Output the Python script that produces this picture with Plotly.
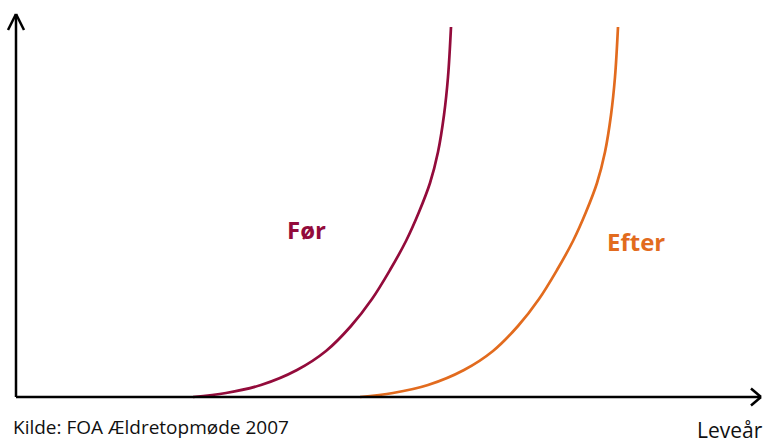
import plotly.graph_objects as go

# Curve values (arbitrary units; x = levealder, y = behov)
for_x = [177, 210, 245, 281, 310, 335, 356, 374, 390, 403, 414, 422, 428, 432, 435]
for_y = [0, 4, 12, 27, 46, 71, 98, 127, 156, 185, 214, 245, 282, 320, 370]
efter_x = [344, 377, 412, 448, 477, 502, 523, 541, 557, 570, 581, 589, 595, 599, 602]
efter_y = [0, 4, 12, 27, 46, 71, 98, 127, 156, 185, 214, 245, 282, 320, 370]

labels = {"for": "Før", "efter": "Efter"}
source = "Kilde: FOA Ældretopmøde 2007"
x_title = "Leveår"

C_FOR = "#930b3b"
C_EFTER = "#e26b1e"
FONT = "Open Sans, Noto Sans, sans-serif"

fig = go.Figure()
fig.add_trace(go.Scatter(x=for_x, y=for_y, mode="lines",
                         line=dict(color=C_FOR, width=2.7, shape="spline", smoothing=1.0),
                         hoverinfo="skip"))
fig.add_trace(go.Scatter(x=efter_x, y=efter_y, mode="lines",
                         line=dict(color=C_EFTER, width=2.7, shape="spline", smoothing=1.0),
                         hoverinfo="skip"))

ax = dict(color="black", width=2.5)
shapes = [
    dict(type="line", x0=0, y0=0, x1=745, y1=0, line=ax),
    dict(type="line", x0=0, y0=0, x1=0, y1=383, line=ax),
    # y arrow chevron
    dict(type="line", x0=-8, y0=367, x1=0, y1=383, line=ax),
    dict(type="line", x0=8, y0=367, x1=0, y1=383, line=ax),
    # x arrow chevron
    dict(type="line", x0=735, y0=8.5, x1=745, y1=0, line=ax),
    dict(type="line", x0=735, y0=-8.5, x1=745, y1=0, line=ax),
]

annotations = [
    dict(x=290, y=168, xref="x", yref="y", text="<b>" + labels["for"] + "</b>",
         showarrow=False, font=dict(family=FONT, size=24, color=C_FOR)),
    dict(x=620, y=156, xref="x", yref="y", text="<b>" + labels["efter"] + "</b>",
         showarrow=False, font=dict(family=FONT, size=24, color=C_EFTER)),
    dict(x=-5, y=-30, xref="x", yref="y", text=source,
         xanchor="left", yanchor="middle", showarrow=False,
         font=dict(family=FONT, size=19, color="#111111")),
    dict(x=679, y=-33, xref="x", yref="y", text=x_title,
         xanchor="left", yanchor="middle", showarrow=False,
         font=dict(family=FONT, size=21, color="#111111")),
]

fig.update_layout(
    width=763, height=439,
    margin=dict(l=0, r=0, t=0, b=0),
    paper_bgcolor="white", plot_bgcolor="white",
    showlegend=False,
    xaxis=dict(range=[-16, 747], visible=False, fixedrange=True),
    yaxis=dict(range=[-42, 397], visible=False, fixedrange=True),
    shapes=shapes,
    annotations=annotations,
)
fig.write_html("out.html", config={"displayModeBar": False},
               post_script="document.body.style.margin='0';document.body.style.overflow='hidden';")
